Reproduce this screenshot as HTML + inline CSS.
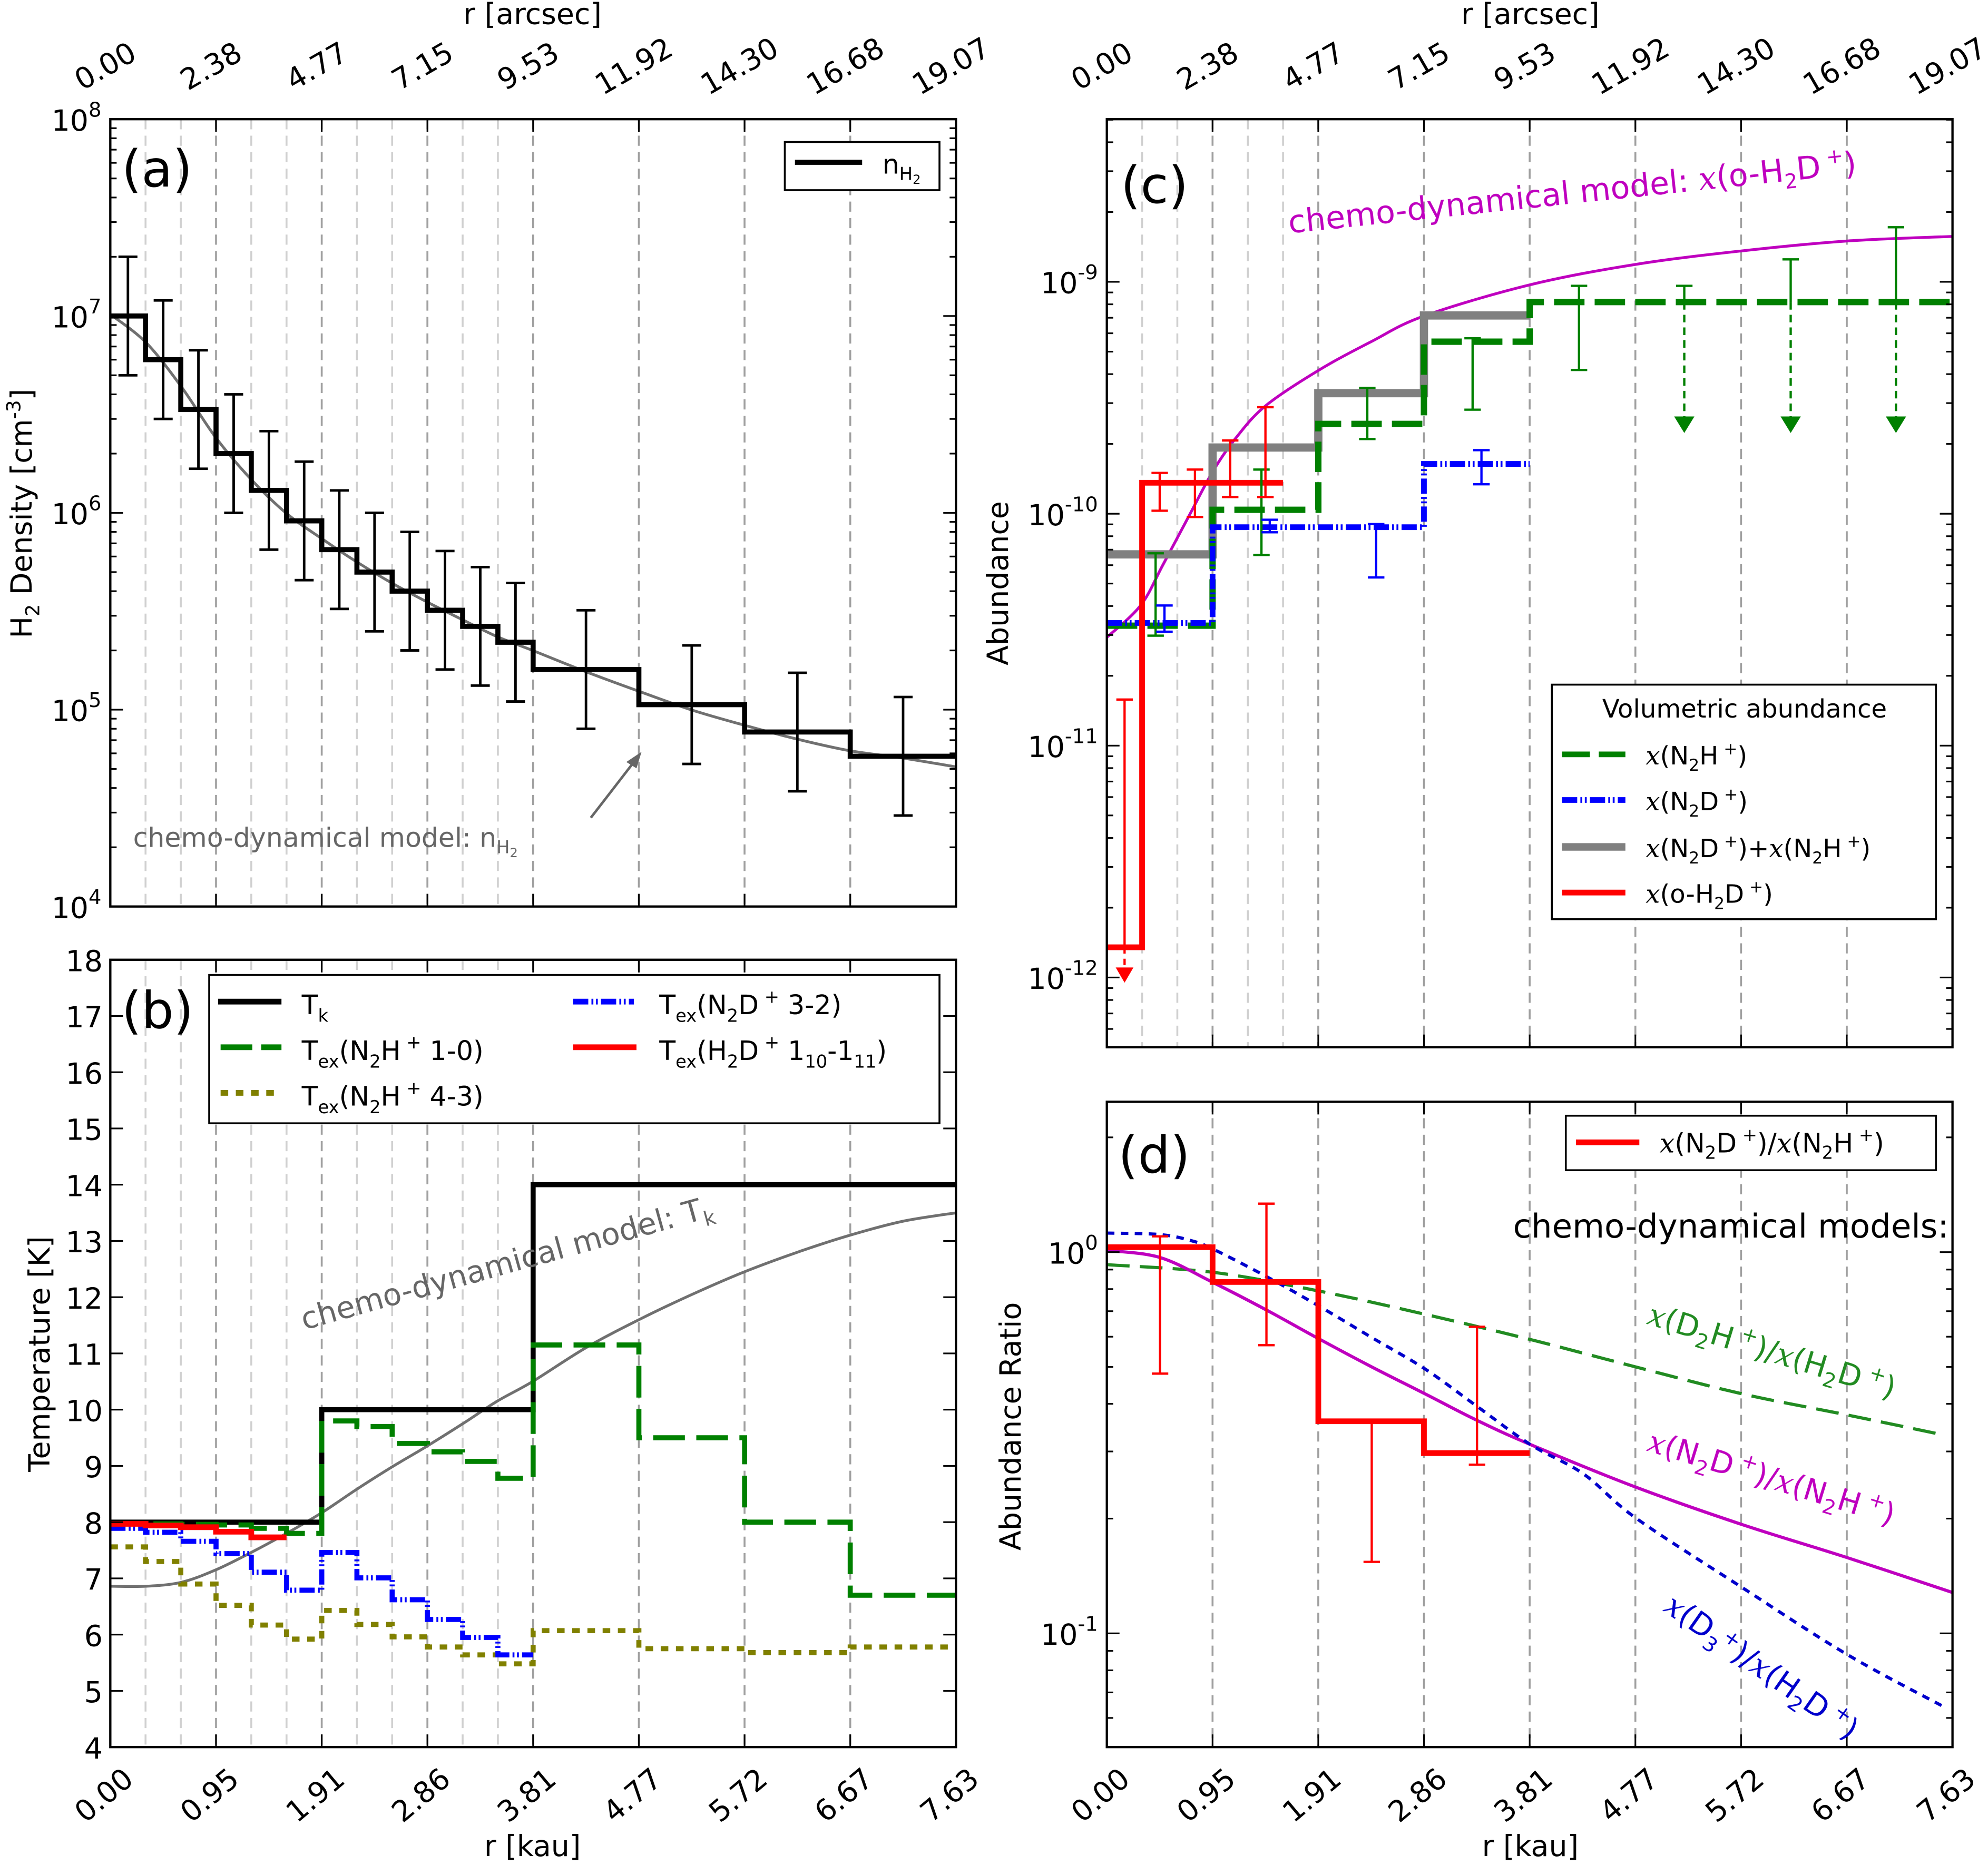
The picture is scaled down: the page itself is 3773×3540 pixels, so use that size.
<!DOCTYPE html>
<html><head><meta charset="utf-8"><style>
html,body{margin:0;padding:0;background:#fff;}
svg{display:block;font-family:"DejaVu Sans","Liberation Sans",sans-serif;}
.it{font-family:"DejaVu Serif","Liberation Serif",serif;font-style:italic;}
</style></head><body>
<svg id="fig" width="3773" height="3540" viewBox="0 0 1568 1471" preserveAspectRatio="none" xmlns="http://www.w3.org/2000/svg">
<defs>
<clipPath id="clipA"><rect x="87" y="94" width="667" height="621"/></clipPath>
<clipPath id="clipB"><rect x="87" y="757" width="667" height="621"/></clipPath>
<clipPath id="clipC"><rect x="873" y="94" width="667" height="732"/></clipPath>
<clipPath id="clipD"><rect x="873" y="869" width="667" height="509"/></clipPath>
</defs>
<g id="gridLayer"></g>
<g id="markLayer"></g>
<g id="axisLayer"></g>

<text x="420" y="19" font-size="23" text-anchor="middle">r [arcsec]</text>
<text x="1207" y="19" font-size="23" text-anchor="middle">r [arcsec]</text>
<text x="420" y="1464" font-size="23" text-anchor="middle">r [kau]</text>
<text x="1207" y="1464" font-size="23" text-anchor="middle">r [kau]</text>
<text transform="translate(25,405) rotate(-90)" font-size="23" text-anchor="middle">H<tspan font-size="15" dy="6">2</tspan><tspan dy="-6"> Density [cm</tspan><tspan font-size="15" dy="-9">-3</tspan><tspan dy="9">]</tspan></text>
<text transform="translate(39,1068) rotate(-90)" font-size="23" text-anchor="middle">Temperature [K]</text>
<text transform="translate(795,460) rotate(-90)" font-size="23" text-anchor="middle">Abundance</text>
<text transform="translate(805,1125) rotate(-90)" font-size="23" text-anchor="middle">Abundance Ratio</text>

<text x="96" y="147" font-size="40">(a)</text>
<text x="96" y="811" font-size="40">(b)</text>
<text x="884" y="160" font-size="40">(c)</text>
<text x="882" y="925" font-size="40">(d)</text>

<g>
<rect x="619" y="112" width="122" height="38" fill="#fff" stroke="#000" stroke-width="1.5"/>
<line x1="627" y1="128" x2="680" y2="128" stroke="#000" stroke-width="4"/>
<text x="696" y="137" font-size="21">n<tspan font-size="14" dy="5">H</tspan><tspan font-size="10" dy="3">2</tspan></text>
</g>
<text x="105" y="668" font-size="21" fill="#666">chemo-dynamical model: n<tspan font-size="14" dy="5">H</tspan><tspan font-size="10" dy="3">2</tspan></text>
<g>
<line x1="466" y1="645" x2="500" y2="601" stroke="#666" stroke-width="2"/>
<polygon points="506,593 494,601 502,606" fill="#666"/>
</g>

<g font-size="21">
<rect x="165" y="769" width="576" height="117" fill="#fff" stroke="#000" stroke-width="1.5"/>
<line x1="172" y1="790" x2="222" y2="790" stroke="#000" stroke-width="4.5"/>
<text x="238" y="800">T<tspan font-size="14" dy="6">k</tspan></text>
<line x1="174" y1="826" x2="222" y2="826" stroke="#008000" stroke-width="4.5" stroke-dasharray="25,7"/>
<text x="238" y="836">T<tspan font-size="14" dy="6">ex</tspan><tspan dy="-6">(N</tspan><tspan font-size="14" dy="6">2</tspan><tspan dy="-6">H</tspan><tspan font-size="14" dy="-9"> +</tspan><tspan dy="9"> 1-0)</tspan></text>
<line x1="174" y1="862" x2="222" y2="862" stroke="#808000" stroke-width="4.5" stroke-dasharray="6,6"/>
<text x="238" y="872">T<tspan font-size="14" dy="6">ex</tspan><tspan dy="-6">(N</tspan><tspan font-size="14" dy="6">2</tspan><tspan dy="-6">H</tspan><tspan font-size="14" dy="-9"> +</tspan><tspan dy="9"> 4-3)</tspan></text>
<line x1="452" y1="790" x2="500" y2="790" stroke="#0000ff" stroke-width="4.5" stroke-dasharray="12,2.5,1.5,2,1.5,2.5"/>
<text x="520" y="800">T<tspan font-size="14" dy="6">ex</tspan><tspan dy="-6">(N</tspan><tspan font-size="14" dy="6">2</tspan><tspan dy="-6">D</tspan><tspan font-size="14" dy="-9"> +</tspan><tspan dy="9"> 3-2)</tspan></text>
<line x1="452" y1="826" x2="502" y2="826" stroke="#ff0000" stroke-width="4.5"/>
<text x="520" y="836">T<tspan font-size="14" dy="6">ex</tspan><tspan dy="-6">(H</tspan><tspan font-size="14" dy="6">2</tspan><tspan dy="-6">D</tspan><tspan font-size="14" dy="-9"> +</tspan><tspan dy="9"> 1</tspan><tspan font-size="14" dy="6">10</tspan><tspan dy="-6">-1</tspan><tspan font-size="14" dy="6">11</tspan><tspan dy="-6">)</tspan></text>
</g>
<text transform="translate(240,1049) rotate(-15.5)" font-size="24" fill="#666">chemo-dynamical model: T<tspan font-size="16" dy="6">k</tspan></text>

<g font-size="20">
<rect x="1224" y="540" width="303" height="185" fill="#fff" stroke="#000" stroke-width="1.5"/>
<text x="1376" y="566" text-anchor="middle" font-size="20">Volumetric abundance</text>
<line x1="1232" y1="595" x2="1282" y2="595" stroke="#008000" stroke-width="4.5" stroke-dasharray="22,7"/>
<text x="1298" y="603"><tspan class="it">x</tspan>(N<tspan font-size="13" dy="5">2</tspan><tspan dy="-5">H</tspan><tspan font-size="13" dy="-8"> +</tspan><tspan dy="8">)</tspan></text>
<line x1="1232" y1="631" x2="1282" y2="631" stroke="#0000ff" stroke-width="4.5" stroke-dasharray="12,2.5,1.5,2,1.5,2.5"/>
<text x="1298" y="639"><tspan class="it">x</tspan>(N<tspan font-size="13" dy="5">2</tspan><tspan dy="-5">D</tspan><tspan font-size="13" dy="-8"> +</tspan><tspan dy="8">)</tspan></text>
<line x1="1232" y1="668" x2="1282" y2="668" stroke="#808080" stroke-width="6"/>
<text x="1298" y="676"><tspan class="it">x</tspan>(N<tspan font-size="13" dy="5">2</tspan><tspan dy="-5">D</tspan><tspan font-size="13" dy="-8"> +</tspan><tspan dy="8">)+</tspan><tspan class="it">x</tspan>(N<tspan font-size="13" dy="5">2</tspan><tspan dy="-5">H</tspan><tspan font-size="13" dy="-8"> +</tspan><tspan dy="8">)</tspan></text>
<line x1="1232" y1="704" x2="1282" y2="704" stroke="#ff0000" stroke-width="4.5"/>
<text x="1298" y="712"><tspan class="it">x</tspan>(o-H<tspan font-size="13" dy="5">2</tspan><tspan dy="-5">D</tspan><tspan font-size="13" dy="-8"> +</tspan><tspan dy="8">)</tspan></text>
</g>
<text transform="translate(1017,184) rotate(-6)" font-size="25" fill="#bf00bf">chemo-dynamical model: <tspan class="it">x</tspan>(o-H<tspan font-size="16" dy="6">2</tspan><tspan dy="-6">D</tspan><tspan font-size="16" dy="-10"> +</tspan><tspan dy="10">)</tspan></text>

<g font-size="21">
<rect x="1235" y="880" width="292" height="43" fill="#fff" stroke="#000" stroke-width="1.5"/>
<line x1="1243" y1="901" x2="1293" y2="901" stroke="#ff0000" stroke-width="4.5"/>
<text x="1309" y="909"><tspan class="it">x</tspan>(N<tspan font-size="14" dy="5">2</tspan><tspan dy="-5">D</tspan><tspan font-size="14" dy="-9"> +</tspan><tspan dy="9">)/</tspan><tspan class="it">x</tspan>(N<tspan font-size="14" dy="5">2</tspan><tspan dy="-5">H</tspan><tspan font-size="14" dy="-9"> +</tspan><tspan dy="9">)</tspan></text>
</g>
<text x="1537" y="976" font-size="26" text-anchor="end">chemo-dynamical models:</text>
<text transform="translate(1298,1044) rotate(17)" font-size="24" fill="#228b22"><tspan class="it">x</tspan>(D<tspan font-size="16" dy="6">2</tspan><tspan dy="-6">H</tspan><tspan font-size="16" dy="-10"> +</tspan><tspan dy="10">)/</tspan><tspan class="it">x</tspan>(H<tspan font-size="16" dy="6">2</tspan><tspan dy="-6">D</tspan><tspan font-size="16" dy="-10"> +</tspan><tspan dy="10">)</tspan></text>
<text transform="translate(1298,1144) rotate(17)" font-size="24" fill="#bf00bf"><tspan class="it">x</tspan>(N<tspan font-size="16" dy="6">2</tspan><tspan dy="-6">D</tspan><tspan font-size="16" dy="-10"> +</tspan><tspan dy="10">)/</tspan><tspan class="it">x</tspan>(N<tspan font-size="16" dy="6">2</tspan><tspan dy="-6">H</tspan><tspan font-size="16" dy="-10"> +</tspan><tspan dy="10">)</tspan></text>
<text transform="translate(1311,1270) rotate(35)" font-size="24" fill="#0000cc"><tspan class="it">x</tspan>(D<tspan font-size="16" dy="6">3</tspan><tspan font-size="16" dy="-14">+</tspan><tspan dy="8">)/</tspan><tspan class="it">x</tspan>(H<tspan font-size="16" dy="6">2</tspan><tspan dy="-6">D</tspan><tspan font-size="16" dy="-10"> +</tspan><tspan dy="10">)</tspan></text>
</svg>
<script>
const kauTicks = [0, 0.95375, 1.9075, 2.86125, 3.815, 4.76875, 5.7225, 6.67625, 7.63];
const kauTickLabels = ["0.00","0.95","1.91","2.86","3.81","4.77","5.72","6.67","7.63"];
const arcsecTickLabels = ["0.00","2.38","4.77","7.15","9.53","11.92","14.30","16.68","19.07"];
const fineGridKau = [0.318,0.636,1.272,1.590,2.225,2.543,2.861,3.179,3.497];
const fineGridKauC = [0.318,0.636,1.272,1.590];
const binEdges = [0,0.318,0.636,0.954,1.272,1.590,1.908,2.225,2.543,2.861,3.179,3.497,3.815,4.769,5.723,6.676,7.63];
const binCenters = [0.159,0.477,0.795,1.113,1.431,1.749,2.066,2.384,2.702,3.020,3.338,3.656,4.292,5.246,6.199,7.153];
const nH2 = [1.0e7,6.0e6,3.35e6,2.0e6,1.3e6,9.1e5,6.5e5,5.0e5,4.0e5,3.2e5,2.65e5,2.2e5,1.6e5,1.06e5,7.7e4,5.8e4];
const nH2ErrFactor = 2;
const modelKauA = [0,0.32,0.64,0.95,1.27,1.59,1.91,2.22,2.54,2.86,3.18,3.49,3.81,4.29,4.77,5.25,5.72,6.2,6.67,7.15,7.63];
const modelNH2 = [1.02e7,7.35e6,4.38e6,2.42e6,1.48e6,9.93e5,7.38e5,5.65e5,4.40e5,3.52e5,2.86e5,2.35e5,2.0e5,1.56e5,1.24e5,9.95e4,8.34e4,7.08e4,6.19e4,5.68e4,5.12e4];
const tkEdges = [0,1.908,3.815,7.63];
const tkValues = [8,10,14];
const texN2H10 = [7.97,7.97,7.96,7.95,7.89,7.8,9.8,9.7,9.4,9.25,9.08,8.78,11.15,9.5,8.0,6.7];
const texN2H43 = [7.56,7.30,6.90,6.52,6.17,5.92,6.43,6.18,5.96,5.78,5.64,5.48,6.07,5.75,5.68,5.78];
const texN2D32 = [7.89,7.82,7.66,7.44,7.11,6.79,7.46,7.01,6.62,6.27,5.95,5.64];
const texH2D = [7.97,7.94,7.91,7.83,7.73];
const modelKauB = [0,0.32,0.64,0.95,1.27,1.59,1.91,2.22,2.54,2.84,3.18,3.49,3.81,4.29,4.77,5.25,5.72,6.2,6.67,7.15,7.63];
const modelTk = [6.86,6.86,6.93,7.15,7.46,7.8,8.17,8.58,8.98,9.33,9.75,10.15,10.5,11.1,11.6,12.05,12.45,12.8,13.1,13.35,13.5];
const coarseEdgesC = [0,0.954,1.908,2.861,3.815];
const coarseEdgesC2 = [0,0.954,1.908,2.861,3.815,7.63];
const xN2H = [3.29e-11,1.04e-10,2.44e-10,5.52e-10,8.18e-10];
const xN2D = [3.38e-11,8.75e-11,8.75e-11,1.64e-10];
const xSum = [6.68e-11,1.93e-10,3.31e-10,7.16e-10];
const oH2DEdges = [0,0.318,0.636,0.954,1.272,1.590];
const xOH2D = [1.35e-12,1.36e-10,1.36e-10,1.36e-10,1.36e-10];
const n2hErrKau = [0.44,1.395,2.35,3.30,4.26];
const n2hErrLo = [2.98e-11,6.64e-11,2.10e-10,2.81e-10,4.17e-10];
const n2hErrHi = [6.75e-11,1.55e-10,3.49e-10,5.71e-10,9.61e-10];
const n2hLimKau = [5.21,6.17,7.12];
const n2hLimHi = [9.61e-10,1.25e-9,1.72e-9];
const n2hLimTip = 2.23e-10;
const n2dErrKau = [0.52,1.47,2.43,3.38];
const n2dErrLo = [3.10e-11,8.32e-11,5.31e-11,1.34e-10];
const n2dErrHi = [4.02e-11,9.42e-11,9.02e-11,1.88e-10];
const oh2dErrKau = [0.477,0.795,1.113,1.431];
const oh2dErrLo = [1.03e-10,9.68e-11,1.18e-10,1.18e-10];
const oh2dErrHi = [1.50e-10,1.55e-10,2.07e-10,2.88e-10];
const oh2dLimKau = 0.16;
const oh2dLimHi = 1.58e-11;
const oh2dLimTip = 9.5e-13;
const modelKauC = [0,0.304,0.507,0.761,0.959,1.167,1.436,1.913,2.385,2.867,3.821,4.775,5.729,6.677,7.63];
const modelOH2D = [2.93e-11,4.02e-11,6.03e-11,1.02e-10,1.53e-10,2.13e-10,2.93e-10,4.16e-10,5.52e-10,7.14e-10,9.72e-10,1.19e-9,1.36e-9,1.50e-9,1.57e-9];
const ratioEdges = [0,0.954,1.908,2.861,3.815];
const ratioN2DN2H = [1.03,0.835,0.36,0.297];
const ratioErrKau = [0.48,1.44,2.39,3.34];
const ratioErrLo = [0.48,0.57,0.154,0.277];
const ratioErrHi = [1.10,1.34,0.36,0.637];
const modelKauD = [0,0.48,0.96,1.44,1.91,2.39,2.87,3.34,3.82,4.77,5.73,6.68,7.63];
const modelRatioN2 = [1.01,0.968,0.832,0.705,0.593,0.5,0.425,0.362,0.313,0.242,0.193,0.158,0.128];
const modelKauDG = [0,0.96,1.91,2.87,3.82,4.77,5.73,6.68,7.56];
const modelD2H = [0.927,0.885,0.791,0.687,0.59,0.5,0.425,0.374,0.331];
const modelKauDB = [0,0.48,0.76,0.96,1.44,1.91,2.39,2.87,3.34,3.82,4.30,4.77,5.73,6.68,7.56];
const modelD3 = [1.122,1.112,1.072,1.018,0.863,0.723,0.597,0.494,0.394,0.313,0.262,0.201,0.132,0.088,0.064];

const NS = "http://www.w3.org/2000/svg";
const L = Math.log10;
const xa = k => 87 + k / 7.63 * 667;
const xc = k => 873 + k / 7.63 * 667;
const ya = v => 715 - (L(v) - 4) * 155.25;
const yb = t => 1378 - (t - 4) * 44.357;
const yc = v => 222.3 + (-9 - L(v)) * 182.9;
const yd = v => 987.6 - L(v) * 300.7;

const grid = document.getElementById('gridLayer');
const marks = document.getElementById('markLayer');
const axes = document.getElementById('axisLayer');

function mk(tag, attrs, name, parent) {
  const el = document.createElementNS(NS, tag);
  for (const k in attrs) el.setAttribute(k, attrs[k]);
  
  
  parent.appendChild(el);
  return el;
}
function stepPath(edges, vals, X, Y) {
  let d = 'M' + X(edges[0]) + ',' + Y(vals[0]);
  for (let i = 0; i < vals.length; i++) {
    if (i > 0) d += 'V' + Y(vals[i]);
    d += 'H' + X(edges[i + 1]);
  }
  return d;
}
// smooth (Catmull-Rom) curve through the data points
function linePath(xs, ys, X, Y) {
  const P = xs.map((k, i) => [X(k), Y(ys[i])]);
  let d = 'M' + P[0][0].toFixed(2) + ',' + P[0][1].toFixed(2);
  for (let i = 0; i < P.length - 1; i++) {
    const p0 = P[Math.max(0, i - 1)], p1 = P[i], p2 = P[i + 1], p3 = P[Math.min(P.length - 1, i + 2)];
    const c1 = [p1[0] + (p2[0] - p0[0]) / 6, p1[1] + (p2[1] - p0[1]) / 6];
    const c2 = [p2[0] - (p3[0] - p1[0]) / 6, p2[1] - (p3[1] - p1[1]) / 6];
    d += 'C' + c1[0].toFixed(2) + ',' + c1[1].toFixed(2) + ' ' + c2[0].toFixed(2) + ',' + c2[1].toFixed(2) + ' ' + p2[0].toFixed(2) + ',' + p2[1].toFixed(2);
  }
  return d;
}
function errBar(x, y1, y2, color, w, cap, parent, name) {
  const g = mk('g', {stroke: color, 'stroke-width': w}, name, parent);
  mk('line', {x1: x, y1: y1, x2: x, y2: y2}, 'error-bar-line', g);
  mk('line', {x1: x - cap, y1: y1, x2: x + cap, y2: y1}, 'error-bar-cap', g);
  mk('line', {x1: x - cap, y1: y2, x2: x + cap, y2: y2}, 'error-bar-cap', g);
}

const panels = [
  {X: xa, y0: 94, y1: 715, fine: fineGridKau},
  {X: xa, y0: 757, y1: 1378, fine: fineGridKau},
  {X: xc, y0: 94, y1: 826, fine: fineGridKauC},
  {X: xc, y0: 869, y1: 1378, fine: []}
];
panels.forEach(p => {
  p.fine.forEach(k => {
    mk('line', {x1: p.X(k), y1: p.y0, x2: p.X(k), y2: p.y1, stroke: '#d0d0d0', 'stroke-width': 1.5, 'stroke-dasharray': '8,5'}, 'grid-line-fine', grid);
  });
  kauTicks.slice(1, 8).forEach(k => {
    mk('line', {x1: p.X(k), y1: p.y0, x2: p.X(k), y2: p.y1, stroke: '#a0a0a0', 'stroke-width': 1.5, 'stroke-dasharray': '8,5'}, 'grid-line-major', grid);
  });
});

const gA = mk('g', {'clip-path': 'url(#clipA)'}, 'panel-a-marks', marks);
mk('path', {d: linePath(modelKauA, modelNH2, xa, ya), fill: 'none', stroke: '#707070', 'stroke-width': 2.2}, 'model-curve-nh2', gA);
mk('path', {d: stepPath(binEdges, nH2, xa, ya), fill: 'none', stroke: '#000', 'stroke-width': 4}, 'step-nh2', gA);
nH2.forEach((v, i) => errBar(xa(binCenters[i]), ya(v * nH2ErrFactor), ya(v / nH2ErrFactor), '#000', 2, 7.5, gA, 'error-bar-nh2'));

const gB = mk('g', {'clip-path': 'url(#clipB)'}, 'panel-b-marks', marks);
mk('path', {d: linePath(modelKauB, modelTk, xa, yb), fill: 'none', stroke: '#707070', 'stroke-width': 2.2}, 'model-curve-tk', gB);
mk('path', {d: stepPath(tkEdges, tkValues, xa, yb), fill: 'none', stroke: '#000', 'stroke-width': 4}, 'step-tk', gB);
mk('path', {d: stepPath(binEdges, texN2H10, xa, yb), fill: 'none', stroke: '#008000', 'stroke-width': 4, 'stroke-dasharray': '25,9'}, 'step-tex-n2h-10', gB);
mk('path', {d: stepPath(binEdges, texN2H43, xa, yb), fill: 'none', stroke: '#808000', 'stroke-width': 4, 'stroke-dasharray': '6,6'}, 'step-tex-n2h-43', gB);
mk('path', {d: stepPath(binEdges.slice(0, 13), texN2D32, xa, yb), fill: 'none', stroke: '#0000ff', 'stroke-width': 4, 'stroke-dasharray': '12,2.5,1.5,2,1.5,2.5'}, 'step-tex-n2d-32', gB);
mk('path', {d: stepPath(binEdges.slice(0, 6), texH2D, xa, yb), fill: 'none', stroke: '#ff0000', 'stroke-width': 4.5}, 'step-tex-h2d', gB);

const gC = mk('g', {'clip-path': 'url(#clipC)'}, 'panel-c-marks', marks);
mk('path', {d: linePath(modelKauC, modelOH2D, xc, yc), fill: 'none', stroke: '#bf00bf', 'stroke-width': 2.2}, 'model-curve-oh2d', gC);
mk('path', {d: stepPath(coarseEdgesC, xSum, xc, yc), fill: 'none', stroke: '#808080', 'stroke-width': 6.5}, 'step-sum', gC);
mk('path', {d: stepPath(coarseEdgesC2, xN2H, xc, yc), fill: 'none', stroke: '#008000', 'stroke-width': 5, 'stroke-dasharray': '24,8'}, 'step-n2h', gC);
mk('path', {d: stepPath(coarseEdgesC, xN2D, xc, yc), fill: 'none', stroke: '#0000ff', 'stroke-width': 4.5, 'stroke-dasharray': '12,2.5,1.5,2,1.5,2.5'}, 'step-n2d', gC);
mk('path', {d: stepPath(oH2DEdges, xOH2D, xc, yc), fill: 'none', stroke: '#ff0000', 'stroke-width': 4.5}, 'step-oh2d', gC);
n2hErrKau.forEach((k, i) => errBar(xc(k), yc(n2hErrHi[i]), yc(n2hErrLo[i]), '#008000', 1.8, 6.5, gC, 'error-bar-n2h'));
n2dErrKau.forEach((k, i) => errBar(xc(k), yc(n2dErrHi[i]), yc(n2dErrLo[i]), '#0000ff', 1.8, 6.5, gC, 'error-bar-n2d'));
oh2dErrKau.forEach((k, i) => errBar(xc(k), yc(oh2dErrHi[i]), yc(oh2dErrLo[i]), '#ff0000', 1.8, 6.5, gC, 'error-bar-oh2d'));
n2hLimKau.forEach((k, i) => {
  const x = xc(k), yv = yc(xN2H[4]), yt = yc(n2hLimTip);
  const g = mk('g', {}, 'upper-limit-n2h', gC);
  mk('line', {x1: x, y1: yc(n2hLimHi[i]), x2: x, y2: yv, stroke: '#008000', 'stroke-width': 1.8}, 'upper-limit-bar', g);
  mk('line', {x1: x - 6.5, y1: yc(n2hLimHi[i]), x2: x + 6.5, y2: yc(n2hLimHi[i]), stroke: '#008000', 'stroke-width': 1.8}, 'upper-limit-cap', g);
  mk('line', {x1: x, y1: yv, x2: x, y2: yt - 12, stroke: '#008000', 'stroke-width': 1.8, 'stroke-dasharray': '6,4'}, 'upper-limit-dashed', g);
  mk('polygon', {points: (x - 8) + ',' + (yt - 13) + ' ' + (x + 8) + ',' + (yt - 13) + ' ' + x + ',' + yt, fill: '#008000'}, 'upper-limit-arrowhead', g);
});
(function () {
  const x = xc(oh2dLimKau), yv = yc(xOH2D[0]), yt = yc(oh2dLimTip);
  const g = mk('g', {}, 'upper-limit-oh2d', gC);
  mk('line', {x1: x, y1: yc(oh2dLimHi), x2: x, y2: yv, stroke: '#ff0000', 'stroke-width': 1.8}, 'upper-limit-bar', g);
  mk('line', {x1: x - 6.5, y1: yc(oh2dLimHi), x2: x + 6.5, y2: yc(oh2dLimHi), stroke: '#ff0000', 'stroke-width': 1.8}, 'upper-limit-cap', g);
  mk('line', {x1: x, y1: yv, x2: x, y2: yt - 11, stroke: '#ff0000', 'stroke-width': 1.8, 'stroke-dasharray': '5,4'}, 'upper-limit-dashed', g);
  mk('polygon', {points: (x - 7) + ',' + (yt - 12) + ' ' + (x + 7) + ',' + (yt - 12) + ' ' + x + ',' + yt, fill: '#ff0000'}, 'upper-limit-arrowhead', g);
})();

const gD = mk('g', {'clip-path': 'url(#clipD)'}, 'panel-d-marks', marks);
mk('path', {d: linePath(modelKauDG, modelD2H, xc, yd), fill: 'none', stroke: '#228b22', 'stroke-width': 2.5, 'stroke-dasharray': '18,8'}, 'model-curve-d2h', gD);
mk('path', {d: linePath(modelKauD, modelRatioN2, xc, yd), fill: 'none', stroke: '#bf00bf', 'stroke-width': 2.5}, 'model-curve-n2d-n2h', gD);
mk('path', {d: linePath(modelKauDB, modelD3, xc, yd), fill: 'none', stroke: '#0000cc', 'stroke-width': 2.5, 'stroke-dasharray': '6,5'}, 'model-curve-d3', gD);
mk('path', {d: stepPath(ratioEdges, ratioN2DN2H, xc, yd), fill: 'none', stroke: '#ff0000', 'stroke-width': 4.5}, 'step-ratio', gD);
ratioErrKau.forEach((k, i) => errBar(xc(k), yd(ratioErrHi[i]), yd(ratioErrLo[i]), '#ff0000', 1.8, 6.5, gD, 'error-bar-ratio'));

const frames = [
  {x: 87, y: 94, w: 667, h: 621, name: 'frame-a'},
  {x: 87, y: 757, w: 667, h: 621, name: 'frame-b'},
  {x: 873, y: 94, w: 667, h: 732, name: 'frame-c'},
  {x: 873, y: 869, w: 667, h: 509, name: 'frame-d'}
];
frames.forEach(f => {
  mk('rect', {x: f.x, y: f.y, width: f.w, height: f.h, fill: 'none', stroke: '#000', 'stroke-width': 1.8}, f.name, axes);
});
[[xa, 94, 715], [xa, 757, 1378], [xc, 94, 826], [xc, 869, 1378]].forEach(([X, y0, y1]) => {
  kauTicks.forEach(k => {
    mk('line', {x1: X(k), y1: y0, x2: X(k), y2: y0 + 10, stroke: '#000', 'stroke-width': 1.3}, 'x-tick', axes);
    mk('line', {x1: X(k), y1: y1, x2: X(k), y2: y1 - 10, stroke: '#000', 'stroke-width': 1.3}, 'x-tick', axes);
  });
});
[xa, xc].forEach(X => {
  kauTicks.forEach((k, i) => {
    const t = mk('text', {transform: 'translate(' + X(k) + ',59) rotate(-30)', 'font-size': 23, 'text-anchor': 'middle'}, 'top-x-tick-label', axes);
    t.textContent = arcsecTickLabels[i];
    const b = mk('text', {transform: 'translate(' + X(k) + ',1422) rotate(-40)', 'font-size': 23, 'text-anchor': 'middle'}, 'bottom-x-tick-label', axes);
    b.textContent = kauTickLabels[i];
  });
});
function logTicks(Y, lo, hi, x0, x1, yTop, yBot) {
  for (let e = lo; e <= hi; e++) {
    for (let m = 1; m < 10; m++) {
      const y = Y(m * Math.pow(10, e));
      if (y < yTop - 0.5 || y > yBot + 0.5) continue;
      const len = m === 1 ? 10 : 5;
      mk('line', {x1: x0, y1: y, x2: x0 + len, y2: y, stroke: '#000', 'stroke-width': 1.3}, 'y-tick', axes);
      mk('line', {x1: x1, y1: y, x2: x1 - len, y2: y, stroke: '#000', 'stroke-width': 1.3}, 'y-tick', axes);
    }
  }
}
function powLabel(x, y, exp) {
  const t = mk('text', {x: x, y: y + 9, 'font-size': 23, 'text-anchor': 'end'}, 'y-tick-label', axes);
  const a = document.createElementNS(NS, 'tspan');
  a.textContent = '10';
  t.appendChild(a);
  const s = document.createElementNS(NS, 'tspan');
  s.setAttribute('font-size', '16');
  s.setAttribute('dy', '-11');
  s.textContent = String(exp);
  t.appendChild(s);
}
const yTicksA = [4, 5, 6, 7, 8];
const yTicksC = [-12, -11, -10, -9];
const yTicksD = [-1, 0];
const yTicksB = [4,5,6,7,8,9,10,11,12,13,14,15,16,17,18];
logTicks(ya, 4, 8, 87, 754, 94, 715);
yTicksA.forEach(e => powLabel(80, ya(Math.pow(10, e)), e));
logTicks(yc, -13, -8, 873, 1540, 94, 826);
yTicksC.forEach(e => powLabel(866, yc(Math.pow(10, e)), e));
logTicks(yd, -2, 0, 873, 1540, 869, 1378);
yTicksD.forEach(e => powLabel(866, yd(Math.pow(10, e)), e));
yTicksB.forEach(t => {
  const y = yb(t);
  mk('line', {x1: 87, y1: y, x2: 97, y2: y, stroke: '#000', 'stroke-width': 1.3}, 'y-tick', axes);
  mk('line', {x1: 754, y1: y, x2: 744, y2: y, stroke: '#000', 'stroke-width': 1.3}, 'y-tick', axes);
  const lab = mk('text', {x: 81, y: y + 9, 'font-size': 23, 'text-anchor': 'end'}, 'y-tick-label', axes);
  lab.textContent = String(t);
});
</script>
</body></html>
